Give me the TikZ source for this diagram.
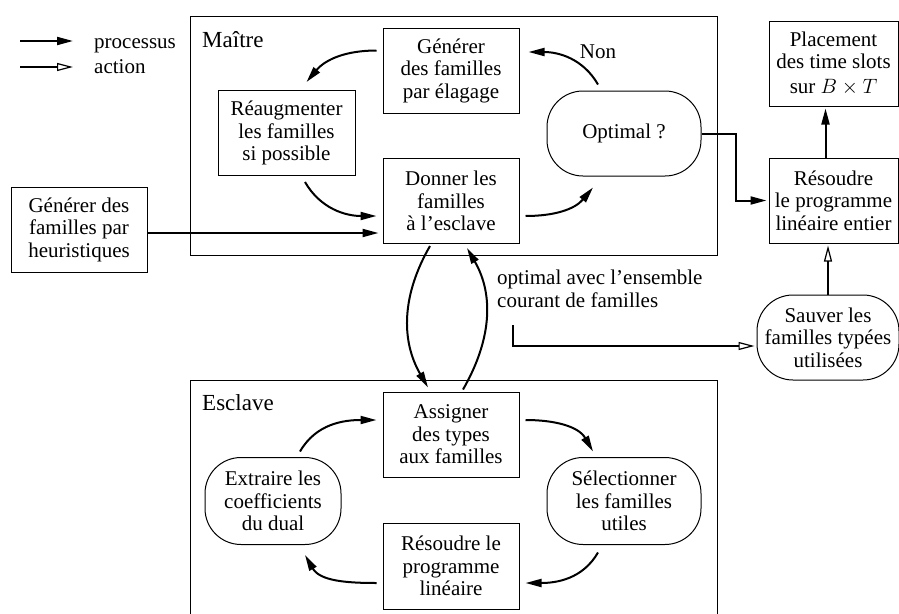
\documentclass[tikz,border=0pt]{standalone}
\usepackage{fontspec}
\setmainfont{Liberation Serif}
\usetikzlibrary{arrows.meta,calc}
\begin{document}
\begin{tikzpicture}[x=1pt,y=-1pt,
  every node/.style={font=\fontsize{21}{22.5}\selectfont, align=center, inner sep=1pt},
  boxn/.style={draw, line width=1pt, minimum width=136pt, minimum height=85pt},
  roundn/.style={draw, line width=1pt, rounded corners=36pt, minimum width=154pt, minimum height=85pt},
  frame/.style={draw, line width=1pt},
  framelab/.style={draw=none, inner sep=2pt, anchor=west, font=\fontsize{23}{26}\selectfont},
  proc/.style={line width=2pt, -{Triangle[length=16pt,width=8pt]}},
  act/.style={line width=2pt, -{Triangle[open,length=16pt,width=8pt,line width=1.2pt]}},
  plain/.style={draw=none, inner sep=2pt}]
\clip (0,0) rectangle (899,613);
% frames
\draw[frame] (190,16) rectangle (717,255);
\draw[frame] (190,380) rectangle (717,625);
\node[framelab] (mlab) at (200,40) {Maître};
\node[framelab] (elab) at (200,403) {Esclave};
% legend
\coordinate (l1a) at (20,41); \coordinate (l1b) at (73,41);
\coordinate (l2a) at (20,67); \coordinate (l2b) at (73,67);
\draw[proc] (l1a) -- (l1b);
\draw[act] (l2a) -- (l2b);
\node[plain, anchor=base west] (lp) at (92,48) {processus};
\node[plain, anchor=base west] (la) at (92,73) {action};
% master nodes
\node[boxn] (gen) at (451,70.5) {Générer\\des familles\\par élagage};
\node[boxn, minimum width=137pt] (reaug) at (286.5,133) {Réaugmenter\\les familles\\si possible};
\node[boxn] (don) at (451,201) {Donner les\\familles\\à l’esclave};
\node[roundn] (opt) at (624,133.5) {Optimal ?};
\node[boxn, minimum width=129pt] (place) at (833.5,63.5) {Placement\\des time slots\\[2pt]sur $B\times T$};
\node[boxn, minimum width=129pt] (res) at (833.5,200.5) {Résoudre\\le programme\\linéaire entier};
\node[boxn] (heur) at (79,229.5) {Générer des\\familles par\\heuristiques};
\node[roundn, minimum width=142pt] (sauv) at (828,337.5) {Sauver les\\familles typées\\utilisées};
% slave nodes
\node[boxn] (asg) at (451,434.5) {Assigner\\des types\\aux familles};
\node[boxn, minimum height=86pt] (rlp) at (451,566) {Résoudre le\\programme\\linéaire};
\node[roundn, minimum width=136pt, minimum height=87pt] (ext) at (273,501) {Extraire les\\coefficients\\du dual};
\node[roundn, minimum height=87pt] (sel) at (624,501) {Sélectionner\\les familles\\utiles};
% label
\node[plain, anchor=north west, align=left] (lbl) at (495,268) {optimal avec l’ensemble\\courant de familles};
\node[plain] (non) at (598,52) {Non};
% master loop
\draw[proc] ($(gen.west)+(-6,-20)$) to[out=180,in=50] ($(reaug.north)+(20,-8)$);
\draw[proc] ($(reaug.south)+(18.5,6)$) to[out=-60,in=180] ($(don.west)+(-6,15)$);
\draw[proc] ($(don.east)+(6,15)$) to[out=0,in=-130] ($(opt.south)+(-31,11)$);
\draw[proc] ($(opt.north)+(-26,-6)$) to[out=120,in=0] ($(gen.east)+(9,-18.5)$);
% slave loop
\draw[proc] ($(ext.north)+(27,-5.5)$) to[out=60,in=180] ($(asg.west)+(-6,-14.5)$);
\draw[proc] ($(asg.east)+(6,-14.5)$) to[out=0,in=120] ($(sel.north)+(-31,-5.5)$);
\draw[proc] ($(sel.south)+(-26,7.5)$) to[out=-120,in=0] ($(rlp.east)+(6,17)$);
\draw[proc] ($(rlp.west)+(-6,17)$) to[out=180,in=-60] ($(ext.south)+(32,10)$);
% master <-> slave
\draw[proc] ($(don.south)+(-21,2)$) to[out=-120,in=120] ($(asg.north)+(-23,-4)$);
\draw[proc] ($(asg.north)+(12,-2)$) to[out=60,in=-60] ($(don.south)+(16,4)$);
% right side
\draw[proc, shorten >=2pt] (opt.east) -- ++(34,0) |- (res.west);
\draw[proc, shorten >=2pt] ([xshift=-8pt]res.north) -- ([xshift=-8pt]res.north |- place.south);
\draw[act, shorten >=2pt] (sauv.north) -- (sauv.north |- res.south);
\draw[proc, shorten >=4pt] ([yshift=-3.5pt]heur.east) -- ([yshift=-3.5pt]heur.east -| don.west);
\coordinate (c1) at (513,325);
\draw[act, shorten >=2pt] (c1) |- ([yshift=-8.5pt]sauv.west);
\end{tikzpicture}
\end{document}
